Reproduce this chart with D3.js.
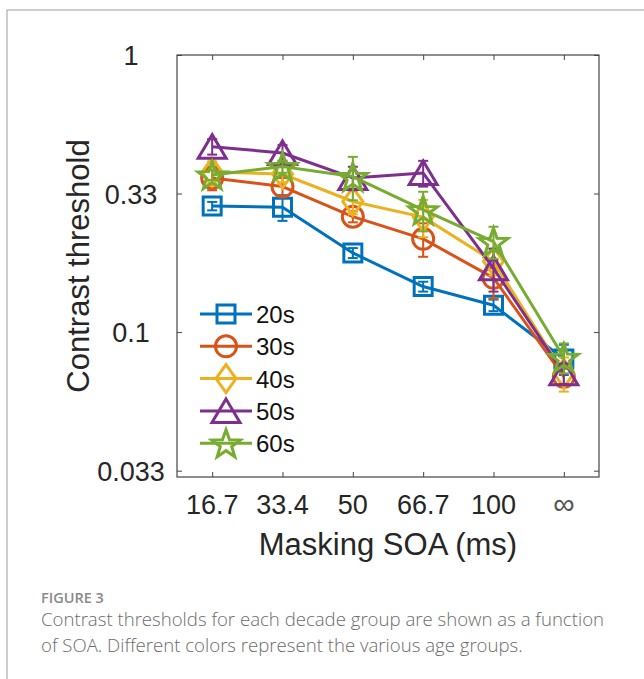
<!DOCTYPE html>
<html>
<head>
<meta charset="utf-8">
<script src="https://cdn.jsdelivr.net/npm/d3@7"></script>
<style>
  html, body { margin: 0; padding: 0; background: #fff; }
  svg { display: block; }
</style>
</head>
<body>
<svg id="fig" width="644" height="679"></svg>
<script>
// Masking SOA conditions (x categories)
const soaLabels = ["16.7", "33.4", "50", "66.7", "100", "\u221E"];

// Age groups
const groups = ["20s", "30s", "40s", "50s", "60s"];
const colors = ["#0072BD", "#D95319", "#EDB120", "#7E2F8E", "#77AC30"];
const markers = ["square", "circle", "diamond", "triangle", "star"];

// Mean contrast thresholds per group
const thr20s = [0.285, 0.282, 0.193, 0.146, 0.125, 0.080];
const thr30s = [0.360, 0.335, 0.261, 0.217, 0.157, 0.069];
const thr40s = [0.378, 0.372, 0.296, 0.260, 0.180, 0.071];
const thr50s = [0.467, 0.443, 0.360, 0.375, 0.170, 0.071];
const thr60s = [0.369, 0.396, 0.364, 0.276, 0.212, 0.081];

// Standard errors
const err20s = [0.010, 0.030, 0.008, 0.006, 0.006, 0.010];
const err30s = [0.035, 0.025, 0.012, 0.030, 0.025, 0.005];
const err40s = [0.035, 0.025, 0.030, 0.040, 0.020, 0.010];
const err50s = [0.030, 0.030, 0.035, 0.040, 0.030, 0.006];
const err60s = [0.015, 0.020, 0.065, 0.045, 0.028, 0.010];

// Y axis ticks (half-decade steps)
const yTickValues = [1, Math.pow(10, -0.5), 0.1, Math.pow(10, -1.5)];
const yTickLabels = ["1", "0.33", "0.1", "0.033"];

const means = [thr20s, thr30s, thr40s, thr50s, thr60s];
const errs = [err20s, err30s, err40s, err50s, err60s];

const svg = d3.select("#fig");
const axisFont = "'Liberation Sans', Arial, Helvetica, sans-serif";
const ink = "#262626";

// Panel frame
svg.append("path")
  .attr("d", "M7,679 L7,10 L644,10")
  .attr("fill", "none")
  .attr("stroke", "#bdbdbd")
  .attr("stroke-width", 1.5);

const box = { left: 177, right: 599, top: 55, bottom: 477 };

const x = d3.scalePoint().domain(soaLabels).range([box.left, box.right]).padding(0.5);
const y = d3.scaleLog().domain([0.03, 1]).range([box.bottom, box.top]);

// Axes box with inward ticks on all sides
const axG = svg.append("g");
const tickLen = 5;
const bottomAxis = d3.axisBottom(x).tickSizeInner(-tickLen).tickSizeOuter(0).tickFormat("");
const topAxis = d3.axisTop(x).tickSizeInner(-tickLen).tickSizeOuter(0).tickFormat("");
const leftAxis = d3.axisLeft(y).tickValues(yTickValues).tickSizeInner(-tickLen).tickSizeOuter(0).tickFormat("");
const rightAxis = d3.axisRight(y).tickValues(yTickValues).tickSizeInner(-tickLen).tickSizeOuter(0).tickFormat("");

axG.append("g").attr("transform", `translate(0,${box.bottom})`).call(bottomAxis);
axG.append("g").attr("transform", `translate(0,${box.top})`).call(topAxis);
axG.append("g").attr("transform", `translate(${box.left},0)`).call(leftAxis);
axG.append("g").attr("transform", `translate(${box.right},0)`).call(rightAxis);
axG.selectAll("path.domain").remove();
axG.selectAll(".tick line").attr("stroke", "#444").attr("stroke-width", 1);

axG.append("rect")
  .attr("x", box.left).attr("y", box.top)
  .attr("width", box.right - box.left).attr("height", box.bottom - box.top)
  .attr("fill", "none").attr("stroke", "#444").attr("stroke-width", 1.2);

// Tick labels
svg.append("g").selectAll("text").data(yTickValues).join("text")
  .attr("x", 131)
  .attr("y", d => y(d) + 10)
  .attr("text-anchor", "middle")
  .attr("font-family", axisFont).attr("font-size", 27).attr("fill", ink)
  .text((d, i) => yTickLabels[i]);

svg.append("g").selectAll("text").data(soaLabels).join("text")
  .attr("x", d => x(d))
  .attr("y", 514)
  .attr("text-anchor", "middle")
  .attr("font-family", axisFont)
  .attr("font-size", d => d === "\u221E" ? 30 : 27)
  .attr("fill", d => d === "\u221E" ? "#555" : ink)
  .text(d => d);

// Axis titles
svg.append("text")
  .attr("x", (box.left + box.right) / 2)
  .attr("y", 555)
  .attr("text-anchor", "middle")
  .attr("font-family", axisFont).attr("font-size", 31).attr("fill", ink)
  .text("Masking SOA (ms)");

svg.append("text")
  .attr("transform", `translate(89,266) rotate(-90)`)
  .attr("text-anchor", "middle")
  .attr("font-family", axisFont).attr("font-size", 31).attr("fill", ink)
  .text("Contrast threshold");

// Marker shapes
function markerPath(kind) {
  switch (kind) {
    case "square": return "M-9,-9H9V9H-9Z";
    case "circle": return d3.symbol(d3.symbolCircle, Math.PI * 10.5 * 10.5)();
    case "diamond": return "M0,-14L10,0L0,14L-10,0Z";
    case "triangle": return "M0,-12L14,11.5L-14,11.5Z";
    case "star": {
      const pts = [];
      for (let k = 0; k < 10; k++) {
        const r = k % 2 === 0 ? 15 : 6;
        const a = -Math.PI / 2 + k * Math.PI / 5;
        pts.push([r * Math.cos(a), r * Math.sin(a) + 1.5]);
      }
      return "M" + pts.map(p => p.join(",")).join("L") + "Z";
    }
  }
}

const line = d3.line().x(d => x(d.soa)).y(d => y(d.v));
const plotG = svg.append("g");

groups.forEach((g, gi) => {
  const pts = soaLabels.map((s, i) => ({ soa: s, v: means[gi][i], e: errs[gi][i] }));
  const sg = plotG.append("g");
  sg.append("path").datum(pts)
    .attr("d", line)
    .attr("fill", "none").attr("stroke", colors[gi]).attr("stroke-width", 3)
    .attr("stroke-linejoin", "round");

  // Error bars
  const eb = sg.append("g").selectAll("g").data(pts).join("g")
    .attr("stroke", colors[gi]).attr("stroke-width", 2);
  eb.append("line")
    .attr("x1", d => x(d.soa)).attr("x2", d => x(d.soa))
    .attr("y1", d => y(d.v + d.e)).attr("y2", d => y(d.v - d.e));
  eb.append("line")
    .attr("x1", d => x(d.soa) - 5).attr("x2", d => x(d.soa) + 5)
    .attr("y1", d => y(d.v + d.e)).attr("y2", d => y(d.v + d.e));
  eb.append("line")
    .attr("x1", d => x(d.soa) - 5).attr("x2", d => x(d.soa) + 5)
    .attr("y1", d => y(d.v - d.e)).attr("y2", d => y(d.v - d.e));

  sg.append("g").selectAll("path").data(pts).join("path")
    .attr("transform", d => `translate(${x(d.soa)},${y(d.v)})`)
    .attr("d", markerPath(markers[gi]))
    .attr("fill", "none").attr("stroke", colors[gi]).attr("stroke-width", 3)
    .attr("stroke-linejoin", "miter");
});

// Legend
const legend = svg.append("g");
groups.forEach((g, gi) => {
  const cy = 314 + gi * 32.3;
  legend.append("line")
    .attr("x1", 200).attr("x2", 252).attr("y1", cy).attr("y2", cy)
    .attr("stroke", colors[gi]).attr("stroke-width", 3);
  legend.append("path")
    .attr("transform", `translate(226,${cy})`)
    .attr("d", markerPath(markers[gi]))
    .attr("fill", "none").attr("stroke", colors[gi]).attr("stroke-width", 3);
  legend.append("text")
    .attr("x", 256).attr("y", cy + 9)
    .attr("font-family", axisFont).attr("font-size", 24).attr("fill", "#111")
    .text(g);
});

// Caption
const capFont = "'Open Sans', 'Noto Sans', sans-serif";
svg.append("text")
  .attr("x", 41).attr("y", 603)
  .attr("font-family", capFont).attr("font-size", 14.5).attr("font-weight", 600)
  .attr("fill", "#8a8a8a")
  .text("FIGURE 3");
svg.append("text")
  .attr("x", 41).attr("y", 626)
  .attr("font-family", capFont).attr("font-size", 18.6).attr("font-weight", 300).attr("fill", "#6b6b6b")
  .text("Contrast thresholds for each decade group are shown as a function");
svg.append("text")
  .attr("x", 41).attr("y", 652)
  .attr("font-family", capFont).attr("font-size", 18.6).attr("font-weight", 300).attr("fill", "#6b6b6b")
  .text("of SOA. Different colors represent the various age groups.");
</script>
</body>
</html>
